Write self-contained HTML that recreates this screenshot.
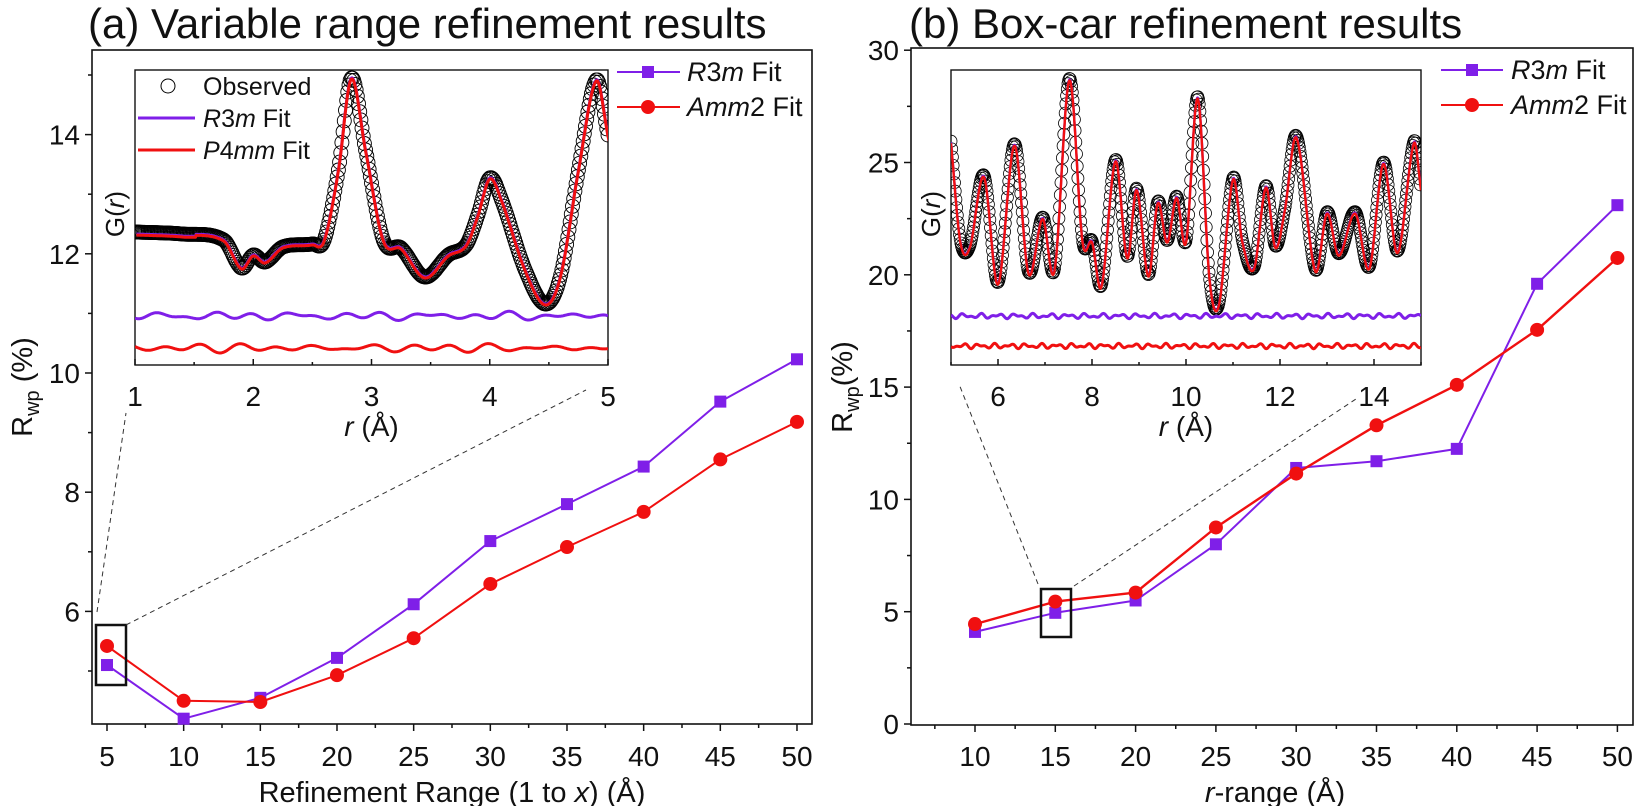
<!DOCTYPE html>
<html><head><meta charset="utf-8"><style>
body{margin:0;background:#fff}
svg{display:block;font-family:"Liberation Sans",sans-serif}
</style></head><body>
<svg id="s" width="1637" height="806" viewBox="0 0 1637 806" xmlns="http://www.w3.org/2000/svg"></svg>
<script>
const S=document.getElementById('s');let h='';
const P='#7f1fe8',R='#f01010';
function T(x,y,t,o){o=o||{};h+=`<text x="${x}" y="${y}" font-size="${o.fs||28}" text-anchor="${o.a||'middle'}" ${o.tr?`transform="${o.tr}"`:''} fill="#111">${t}</text>`;}
function L(x1,y1,x2,y2,c,w,d){h+=`<line x1="${x1}" y1="${y1}" x2="${x2}" y2="${y2}" stroke="${c||'#111'}" stroke-width="${w||1.5}" ${d?`stroke-dasharray="${d}"`:''}/>`;}
function poly(pts,c,w){h+=`<polyline fill="none" stroke="${c}" stroke-width="${w}" stroke-linejoin="round" points="${pts.map(p=>p[0].toFixed(1)+','+p[1].toFixed(1)).join(' ')}"/>`;}
function sq(x,y,c){h+=`<rect x="${x-6}" y="${y-6}" width="12" height="12" fill="${c}"/>`;}
function ci(x,y,c){h+=`<circle cx="${x}" cy="${y}" r="7" fill="${c}"/>`;}
function cr(ctrl,r){
 let i=0;while(i<ctrl.length-2&&ctrl[i+1][0]<r)i++;
 const p1=ctrl[i],p2=ctrl[i+1],p0=ctrl[Math.max(0,i-1)],p3=ctrl[Math.min(ctrl.length-1,i+2)];
 const t=(r-p1[0])/(p2[0]-p1[0]);
 const m1=(p2[1]-p0[1])/(p2[0]-p0[0])*(p2[0]-p1[0]),m2=(p3[1]-p1[1])/(p3[0]-p1[0])*(p2[0]-p1[0]);
 const t2=t*t,t3=t2*t;
 return (2*t3-3*t2+1)*p1[1]+(t3-2*t2+t)*m1+(-2*t3+3*t2)*p2[1]+(t3-t2)*m2;
}
const it=s=>`<tspan font-style="italic">${s}</tspan>`;
// ---------- Panel (a)
const ax0=92,ax1=812,ay0=50,ay1=724;
const X1=v=>107+(v-5)*15.333, Y1=v=>373-(v-10)*59.6;
h+=`<rect x="${ax0}" y="${ay0}" width="${ax1-ax0}" height="${ay1-ay0}" fill="none" stroke="#111" stroke-width="1.6"/>`;
T(88,38,'(a) Variable range refinement results',{fs:42,a:'start'});
for(let v=5;v<=50;v+=2.5){const x=X1(v);const maj=v%5==0;L(x,ay1,x,ay1+(maj?7:4));if(maj)T(x,766,v);}
for(let v=5;v<=15;v+=1){const y=Y1(v);if(y<ay0||y>ay1)continue;const maj=v%2==0;L(ax0,y,ax0-(maj?7:4),y);if(maj)T(80,y+10,v,{a:'end'});}
T(452,802,'Refinement Range (1 to '+it('x')+') (Å)',{fs:29});
T(0,0,'R<tspan font-size="20" dy="7">wp</tspan><tspan dy="-7"> (%)</tspan>',{fs:29,tr:'translate(32,387) rotate(-90)'});
const aR=[5.1,4.2,4.55,5.22,6.12,7.18,7.8,8.43,9.52,10.23],aA=[5.42,4.5,4.48,4.93,5.55,6.46,7.08,7.67,8.55,9.18];
poly(aR.map((v,i)=>[X1(5+5*i),Y1(v)]),P,2);aR.forEach((v,i)=>sq(X1(5+5*i),Y1(v),P));
poly(aA.map((v,i)=>[X1(5+5*i),Y1(v)]),R,2);aA.forEach((v,i)=>ci(X1(5+5*i),Y1(v),R));
h+=`<rect x="96" y="625" width="30" height="60" fill="none" stroke="#111" stroke-width="2.5"/>`;
L(97,612,126,413,'#333',1,'5,4');L(126,625,586,390,'#333',1,'5,4');
L(617,72,680,72,P,2);sq(648,72,P);T(687,81,it('R')+'3'+it('m')+' Fit',{fs:27,a:'start'});
L(617,107,680,107,R,2);ci(648,107,R);T(687,116,it('Amm')+'2 Fit',{fs:27,a:'start'});
// inset a
const ix0=135,ix1=608,iy0=70,iy1=365,IX=r=>ix0+(r-1)*(ix1-ix0)/4;
h+=`<rect x="${ix0}" y="${iy0}" width="${ix1-ix0}" height="${iy1-iy0}" fill="#fff" stroke="#111" stroke-width="1.4"/>`;
const ca=[[1,232],[1.4,234],[1.75,240],[1.9,268],[2.0,255],[2.1,262],[2.25,247],[2.5,244],[2.6,240],[2.72,170],[2.83,78],[2.95,150],[3.1,240],[3.25,248],[3.45,277],[3.65,255],[3.8,245],[3.9,215],[4.0,178],[4.1,200],[4.3,270],[4.47,304],[4.6,275],[4.75,170],[4.9,80],[5,135]];
let obs=[],fit=[];
for(let r=1;r<=5.0001;r+=0.01){obs.push([IX(r),cr(ca,r)]);}
for(let r=1;r<=5.0001;r+=0.005){fit.push([IX(r+0.012),cr(ca,r+0.012)+ (r<1.5?3:1)]);}
h+=`<clipPath id="ca"><rect x="${ix0}" y="${iy0}" width="${ix1-ix0}" height="${iy1-iy0}"/></clipPath><g clip-path="url(#ca)">`;
obs.forEach(p=>h+=`<circle cx="${p[0].toFixed(1)}" cy="${p[1].toFixed(1)}" r="7" fill="none" stroke="#000" stroke-width="0.9"/>`);
poly(fit.map(p=>[p[0],p[1]-1]),P,3);poly(fit,R,3);
let d1=[],d2=[];for(let r=1;r<=5;r+=0.01){d1.push([IX(r),316-3*Math.sin(r*14)*Math.sin(r*3.3)-2*Math.sin(r*23)]);d2.push([IX(r),348-3*Math.sin(r*15+1)*Math.sin(r*2.7)-2*Math.sin(r*21)]);}
poly(d1,P,3);poly(d2,R,3);h+='</g>';
for(let r=1;r<=5;r+=0.5){const x=IX(r);L(x,iy1,x,iy1-(r%1==0?6:3));if(r%1==0)T(x,406,r);}
T(IX(3),436,it('r')+' (Å)',{fs:28});
T(0,0,'G('+it('r')+')',{fs:26,tr:'translate(124,214) rotate(-90)'});
h+=`<circle cx="168" cy="86" r="7" fill="none" stroke="#000" stroke-width="1"/>`;T(203,95,'Observed',{fs:25,a:'start'});
L(138,118,195,118,P,3);T(203,127,it('R')+'3'+it('m')+' Fit',{fs:25,a:'start'});
L(138,150,195,150,R,3);T(203,159,it('P')+'4'+it('mm')+' Fit',{fs:25,a:'start'});
// ---------- Panel (b)
const bx0=911,bx1=1633,by0=48,by1=725;
const X2=v=>975+(v-10)*16.06, Y2=v=>724-v*22.46;
h+=`<rect x="${bx0}" y="${by0}" width="${bx1-bx0}" height="${by1-by0}" fill="none" stroke="#111" stroke-width="1.6"/>`;
T(909,38,'(b) Box-car refinement results',{fs:42,a:'start'});
for(let v=7.5;v<=50;v+=2.5){const x=X2(v);const maj=v%5==0;L(x,by1,x,by1+(maj?7:4));if(maj)T(x,766,v);}
for(let v=0;v<=30;v+=2.5){const y=Y2(v);const maj=v%5==0;L(bx0,y,bx0-(maj?7:4),y);if(maj)T(899,y+10,v,{a:'end'});}
T(1275,802,it('r')+'-range (Å)',{fs:29});
T(0,0,'R<tspan font-size="20" dy="7">wp</tspan><tspan dy="-7">(%)</tspan>',{fs:29,tr:'translate(852,387) rotate(-90)'});
const bR=[4.1,4.95,5.5,8.0,11.4,11.7,12.25,19.6,23.1],bA=[4.45,5.45,5.85,8.75,11.15,13.3,15.1,17.55,20.75];
poly(bR.map((v,i)=>[X2(10+5*i),Y2(v)]),P,2);bR.forEach((v,i)=>sq(X2(10+5*i),Y2(v),P));
poly(bA.map((v,i)=>[X2(10+5*i),Y2(v)]),R,2.4);bA.forEach((v,i)=>ci(X2(10+5*i),Y2(v),R));
h+=`<rect x="1041" y="589" width="30" height="48" fill="none" stroke="#111" stroke-width="2.5"/>`;
L(1038,584,959,384,'#333',1,'5,4');L(1074,586,1359,397,'#333',1,'5,4');
L(1441,70,1503,70,P,2);sq(1472,70,P);T(1511,79,it('R')+'3'+it('m')+' Fit',{fs:27,a:'start'});
L(1441,105,1503,105,R,2);ci(1472,105,R);T(1511,114,it('Amm')+'2 Fit',{fs:27,a:'start'});
// inset b
const jx0=951,jx1=1421,JX=r=>jx0+(r-5)*47;
h+=`<rect x="${jx0}" y="${iy0}" width="${jx1-jx0}" height="${iy1-iy0}" fill="#fff" stroke="#111" stroke-width="1.4"/>`;
const cbz=[[5.0,270],[5.2,460],[5.4,470],[5.7,335],[6.0,540],[6.35,275],[6.65,520],[6.95,415],[7.2,515],[7.52,150],[7.8,460],[8.0,460],[8.2,545],[8.5,305],[8.75,490],[8.95,360],[9.2,525],[9.4,385],[9.6,460],[9.8,375],[10.0,460],[10.25,185],[10.5,530],[10.7,580],[11.0,340],[11.2,460],[11.45,510],[11.7,355],[11.9,470],[12.1,400],[12.35,260],[12.75,515],[13.0,405],[13.25,485],[13.6,405],[13.9,510],[14.2,310],[14.5,480],[14.85,270],[15.0,360]];
const cb=cbz.map(p=>[p[0],p[1]/1.912]);
obs=[];fit=[];
for(let r=5;r<=15.0001;r+=0.015)obs.push([JX(r),cr(cb,r)]);
for(let r=5;r<=15.0001;r+=0.008)fit.push([JX(r),cr(cb,r)+2]);
h+=`<clipPath id="cb"><rect x="${jx0}" y="${iy0}" width="${jx1-jx0}" height="${iy1-iy0}"/></clipPath><g clip-path="url(#cb)">`;
obs.forEach(p=>h+=`<circle cx="${p[0].toFixed(1)}" cy="${p[1].toFixed(1)}" r="6" fill="none" stroke="#000" stroke-width="0.8"/>`);
poly(fit.map(p=>[p[0],p[1]-1]),P,2.4);poly(fit,R,2.4);
d1=[];d2=[];for(let r=5;r<=15;r+=0.01){d1.push([JX(r),316-1.5*Math.sin(r*17)-1.2*Math.sin(r*29+1)]);d2.push([JX(r),346-1.5*Math.sin(r*19+2)-1.2*Math.sin(r*31)]);}
poly(d1,P,3);poly(d2,R,3);h+='</g>';
for(let r=5;r<=15;r+=1){const x=JX(r);L(x,iy1,x,iy1-(r%2==0?6:3));if(r%2==0&&r<15)T(x,406,r);}
T(JX(10),436,it('r')+' (Å)',{fs:28});
T(0,0,'G('+it('r')+')',{fs:26,tr:'translate(940,214) rotate(-90)'});
S.innerHTML=h;
</script>
</body></html>
